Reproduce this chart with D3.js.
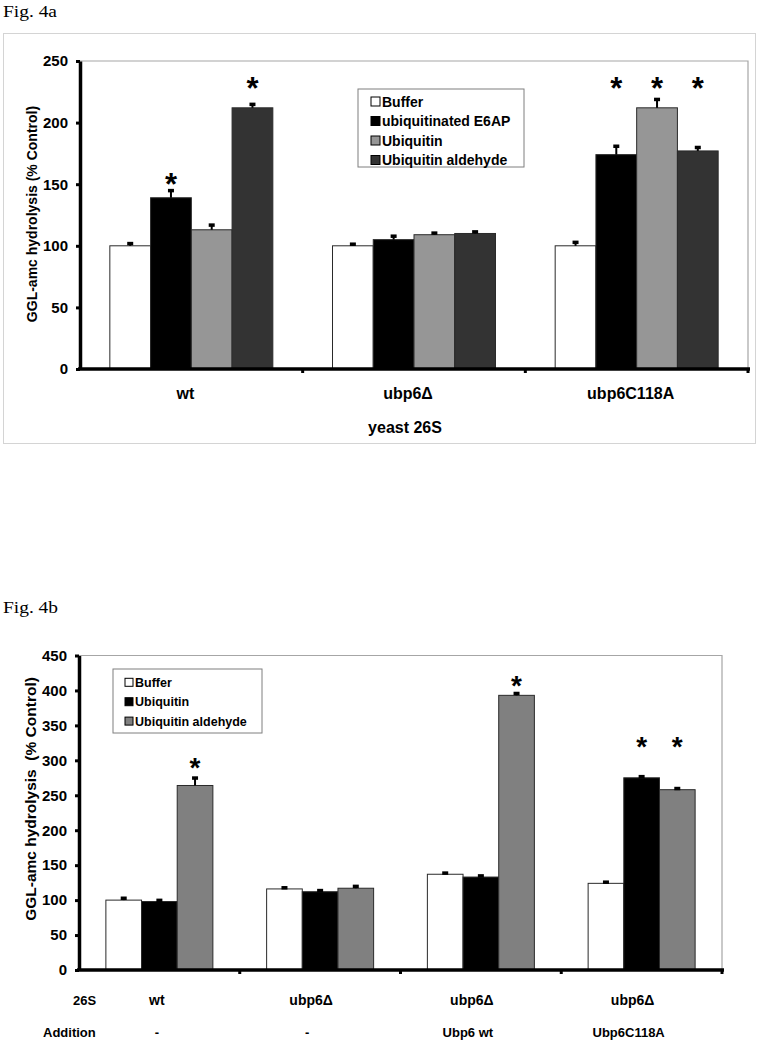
<!DOCTYPE html>
<html>
<head>
<meta charset="utf-8">
<script src="https://cdn.jsdelivr.net/npm/d3@7"></script>
<style>
  html, body { margin: 0; padding: 0; background: #fff; }
  svg { display: block; }
  text { font-family: "Liberation Sans", Arial, sans-serif; font-weight: bold; fill: #000; }
  .serif { font-family: "Liberation Serif", "Times New Roman", serif; font-weight: normal; }
</style>
</head>
<body>
<svg id="chart" width="759" height="1050"></svg>
<script>
// ---------- Fig. 4a data ----------
const cats4a = ['wt', 'ubp6\u0394', 'ubp6C118A'];
const series4a = ['Buffer', 'ubiquitinated E6AP', 'Ubiquitin', 'Ubiquitin aldehyde'];
const vals4a = [
  [100, 139, 113, 212],
  [100, 105, 109, 110],
  [100, 174, 212, 177]
];
const errs4a = [
  [2, 6, 4, 3],
  [1.5, 3, 1.5, 1.5],
  [3, 7, 7, 3]
];
// [category index, series index, level of asterisk in data units]
const stars4a = [[0, 1, 155], [0, 3, 233], [2, 1, 233], [2, 2, 233], [2, 3, 233]];
const ticks4a = [0, 50, 100, 150, 200, 250];
const colors4a = ['#ffffff', '#000000', '#969696', '#333333'];

// ---------- Fig. 4b data ----------
const cats4b = ['wt', 'ubp6\u0394', 'ubp6\u0394', 'ubp6\u0394'];
const additions4b = ['-', '-', 'Ubp6 wt', 'Ubp6C118A'];
const series4b = ['Buffer', 'Ubiquitin', 'Ubiquitin aldehyde'];
const vals4b = [
  [100, 98, 264],
  [116, 112, 117],
  [137, 133, 393],
  [124, 275, 258]
];
const errs4b = [
  [3, 2, 11],
  [2, 2, 3],
  [2, 2, 3],
  [2, 2, 2]
];
const stars4b = [[0, 2, 298], [2, 2, 416], [3, 1, 329], [3, 2, 329]];
const ticks4b = [0, 50, 100, 150, 200, 250, 300, 350, 400, 450];
const colors4b = ['#ffffff', '#000000', '#808080'];

const svg = d3.select('#chart');
svg.append('rect').attr('width', 759).attr('height', 1050).attr('fill', '#fff');

function panel(opt) {
  const g = svg.append('g');
  const idx = opt.vals.map((d, i) => i);
  const x0 = d3.scaleBand().domain(idx).range([opt.left, opt.right])
    .paddingInner(opt.padIn).paddingOuter(opt.padIn / 2);
  const x1 = d3.scaleBand().domain(opt.series.map((d, i) => i)).range([0, x0.bandwidth()]);
  const y = d3.scaleLinear().domain([0, opt.max]).range([opt.bottom, opt.top]);

  // plot area border (top + right)
  g.append('path')
    .attr('d', `M${opt.left},${opt.top}H${opt.right}V${opt.bottom}`)
    .attr('fill', 'none').attr('stroke', '#a6a6a6').attr('stroke-width', 1.2);

  // bars
  opt.vals.forEach((row, ci) => {
    row.forEach((v, si) => {
      const bx = x0(ci) + x1(si);
      g.append('rect')
        .attr('x', bx).attr('y', y(v))
        .attr('width', x1.bandwidth()).attr('height', y(0) - y(v))
        .attr('fill', opt.colors[si]).attr('stroke', '#2a2a2a').attr('stroke-width', 1);
      // error bar
      const cx = bx + x1.bandwidth() / 2;
      const e = opt.errs[ci][si];
      g.append('line').attr('x1', cx).attr('x2', cx).attr('y1', y(v)).attr('y2', y(v + e))
        .attr('stroke', '#000').attr('stroke-width', 2);
      g.append('rect').attr('x', cx - 3).attr('y', y(v + e) - 1.5).attr('width', 6).attr('height', 3.5)
        .attr('fill', '#000');
    });
  });

  // asterisks
  opt.stars.forEach(([ci, si, lvl]) => {
    const cx = x0(ci) + x1(si) + x1.bandwidth() / 2;
    g.append('text').attr('x', cx).attr('y', y(lvl) + opt.starSize * 0.56)
      .attr('text-anchor', 'middle').style('font-size', opt.starSize + 'px').text('*');
  });

  // y axis
  const ax = g.append('g').attr('transform', `translate(${opt.left},0)`)
    .call(d3.axisLeft(y).tickValues(opt.ticks).tickSize(4).tickSizeOuter(0).tickPadding(8));
  ax.select('.domain').attr('stroke', '#000').attr('stroke-width', 3.5);
  ax.selectAll('.tick line').attr('stroke', '#000').attr('stroke-width', 3);
  ax.selectAll('.tick text').style('font-size', '15px').style('font-family', '"Liberation Sans", Arial, sans-serif')
    .style('font-weight', 'bold').attr('fill', '#000');

  // x axis line and group boundary nubs
  g.append('line').attr('x1', opt.left - 2).attr('x2', opt.right + 2).attr('y1', y(0)).attr('y2', y(0))
    .attr('stroke', '#000').attr('stroke-width', 3.5);
  idx.forEach(i => {
    const bx = opt.left + (i + 1) * x0.step();
    g.append('rect').attr('x', bx - 1.5).attr('y', y(0)).attr('width', 3).attr('height', 4).attr('fill', '#000');
  });

  // y title
  g.append('text')
    .attr('transform', `translate(${opt.titleX},${opt.titleY}) rotate(-90)`)
    .attr('text-anchor', 'middle').style('font-size', opt.titleSize + 'px')
    .text(opt.title);

  // legend
  const lg = g.append('g');
  lg.append('rect').attr('x', opt.leg.x).attr('y', opt.leg.y).attr('width', opt.leg.w).attr('height', opt.leg.h)
    .attr('fill', '#fff').attr('stroke', '#7f7f7f').attr('stroke-width', 1);
  opt.series.forEach((s, i) => {
    const cy = opt.leg.y + opt.leg.first + i * opt.leg.step;
    lg.append('rect').attr('x', opt.leg.x + opt.leg.sx).attr('y', cy - opt.leg.ss / 2)
      .attr('width', opt.leg.ss).attr('height', opt.leg.ss)
      .attr('fill', opt.colors[i]).attr('stroke', '#000').attr('stroke-width', 1);
    lg.append('text').attr('x', opt.leg.x + opt.leg.tx).attr('y', cy + opt.leg.fs * 0.36)
      .style('font-size', opt.leg.fs + 'px').text(s);
  });

  return { x0, x1, y };
}

// ---------- Fig. 4a ----------
svg.append('text').attr('class', 'serif').attr('x', 3).attr('y', 17)
  .attr('textLength', 54).attr('lengthAdjust', 'spacingAndGlyphs')
  .style('font-size', '17px').text('Fig. 4a');
svg.append('rect').attr('x', 3.5).attr('y', 33.5).attr('width', 752).attr('height', 410)
  .attr('fill', 'none').attr('stroke', '#d4d4d4').attr('stroke-width', 1);

const pA = panel({
  vals: vals4a, errs: errs4a, series: series4a, colors: colors4a, stars: stars4a, ticks: ticks4a,
  left: 80, right: 748, top: 61, bottom: 369, max: 250, padIn: 0.268, starSize: 31,
  titleX: 37, titleY: 214, titleSize: 14, title: 'GGL-amc hydrolysis (% Control)',
  leg: { x: 358, y: 89, w: 166, h: 78, first: 12.5, step: 19.5, sx: 13, ss: 9, tx: 24, fs: 14 }
});
cats4a.forEach((c, i) => {
  svg.append('text').attr('x', pA.x0(i) + pA.x0.bandwidth() / 2 - 6).attr('y', 399)
    .attr('text-anchor', 'middle').style('font-size', '16px').text(c);
});
svg.append('text').attr('x', 405).attr('y', 433).attr('text-anchor', 'middle')
  .style('font-size', '16px').text('yeast 26S');

// ---------- Fig. 4b ----------
svg.append('text').attr('class', 'serif').attr('x', 3).attr('y', 613)
  .attr('textLength', 55).attr('lengthAdjust', 'spacingAndGlyphs')
  .style('font-size', '17px').text('Fig. 4b');

const pB = panel({
  vals: vals4b, errs: errs4b, series: series4b, colors: colors4b, stars: stars4b, ticks: ticks4b,
  left: 79, right: 722, top: 655.5, bottom: 970, max: 450, padIn: 0.3344, starSize: 28,
  titleX: 36, titleY: 799, titleSize: 15.5, title: 'GGL-amc hydrolysis\u00a0\u00a0(% Control)',
  leg: { x: 113, y: 669, w: 149, h: 64, first: 13.3, step: 19.4, sx: 12, ss: 8, tx: 22, fs: 12.5 }
});
svg.append('text').attr('x', 73).attr('y', 1005).style('font-size', '13px').text('26S');
svg.append('text').attr('x', 43).attr('y', 1037).style('font-size', '13px').text('Addition');
cats4b.forEach((c, i) => {
  const cx = pB.x0(i) + pB.x0.bandwidth() / 2;
  svg.append('text').attr('x', cx - (i === 0 ? 2.5 : 9)).attr('y', 1005)
    .attr('text-anchor', 'middle').style('font-size', '14px').text(c);
  svg.append('text').attr('x', cx - (i === 0 ? 2.5 : 13)).attr('y', 1037)
    .attr('text-anchor', 'middle').style('font-size', '13px').text(additions4b[i]);
});
</script>
</body>
</html>
